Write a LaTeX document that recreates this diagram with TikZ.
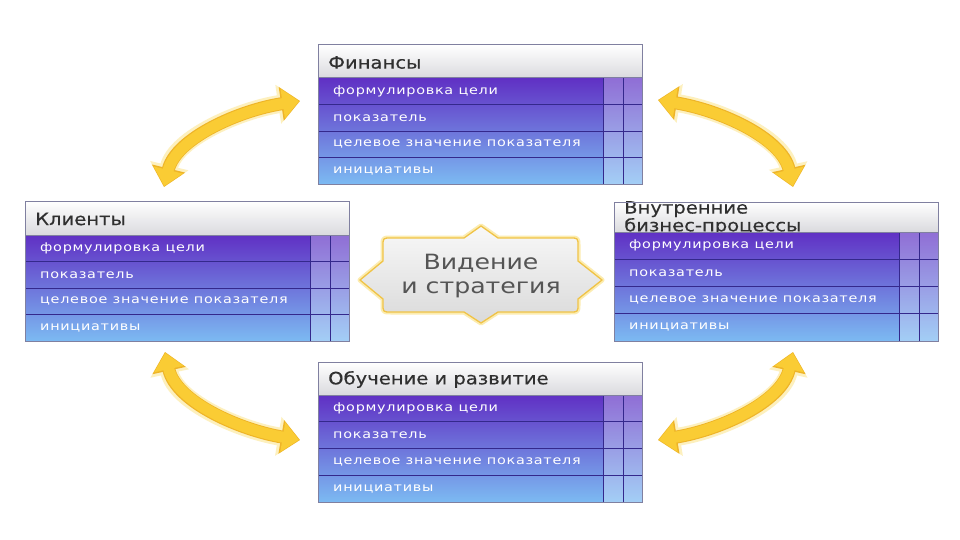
\documentclass[tikz,border=0pt]{standalone}
\usepackage{fontspec}
\setmainfont{DejaVu Sans}
\newfontfamily\hdrfont[FakeStretch=1.15,FakeBold=0.4]{DejaVu Sans}
\newfontfamily\rowfont[FakeStretch=1.2,LetterSpace=6]{DejaVu Sans}
\newfontfamily\visfont[FakeStretch=1.2]{DejaVu Sans}
\usetikzlibrary{arrows.meta}
\definecolor{rowtop}{RGB}{96,48,196}
\definecolor{rowmid}{RGB}{108,112,220}
\definecolor{rowbot}{RGB}{124,186,242}
\definecolor{hdrtop}{RGB}{255,255,255}
\definecolor{hdrbot}{RGB}{218,218,222}
\definecolor{gridcol}{RGB}{52,40,140}
\definecolor{framecol}{RGB}{128,128,160}
\definecolor{hdrtxt}{RGB}{48,48,48}
\definecolor{starline}{RGB}{240,195,70}
\definecolor{starglow}{RGB}{252,236,176}
\definecolor{startop}{RGB}{248,248,248}
\definecolor{starbot}{RGB}{218,218,218}
\definecolor{visstxt}{RGB}{85,85,85}
\definecolor{arrin}{RGB}{250,204,52}
\definecolor{arrout}{RGB}{238,180,40}
\definecolor{arrglow}{RGB}{253,240,190}
\tikzset{
  hdrtext/.style={font=\hdrfont\fontsize{17}{14}\selectfont, text=hdrtxt, inner sep=0pt, align=left},
  rowtext/.style={font=\rowfont\fontsize{12}{14}\selectfont, text=white, inner sep=0pt},
  gridln/.style={draw=gridcol, line width=0.8pt},
  frameln/.style={draw=framecol, line width=1pt},
  arrglowst/.style={draw=arrglow, line width=18pt,
     {Triangle[width=38pt,length=22pt]}-{Triangle[width=38pt,length=22pt]}},
  arroutst/.style={draw=arrout, line width=13pt,
     {Triangle[width=33pt,length=19pt]}-{Triangle[width=33pt,length=19pt]}},
  arrinst/.style={draw=arrin, line width=11pt, shorten <=1pt, shorten >=1pt,
     {Triangle[width=29pt,length=16.5pt]}-{Triangle[width=29pt,length=16.5pt]}},
  vistext/.style={font=\visfont\fontsize{21}{24}\selectfont, text=visstxt, align=center, inner sep=0pt}
}
% name, x, y, header height, row height, header text
\newcommand{\kbox}[6]{%
  \begin{scope}[shift={(#2,#3)}]
    \path[top color=hdrtop, bottom color=hdrbot] (0,0) rectangle (324,#4);
    \node[hdrtext, anchor=west] (#1) at (10,#4/2+1) {#6};
    \path[top color=rowtop, middle color=rowmid, bottom color=rowbot] (0,#4) rectangle (324,#4+4*#5);
    \fill[white, opacity=.3] (285,#4) rectangle (324,#4+4*#5);
    \foreach \ii/\txt in {1/формулировка цели,2/показатель,3/целевое значение показателя,4/инициативы}
      \node[rowtext, anchor=west] (#1-r\ii) at (15,#4+\ii*#5-#5/2) {\txt};
    \foreach \ii in {1,2,3}
      \draw[gridln] (0,#4+\ii*#5) -- (324,#4+\ii*#5);
    \draw[gridln] (285,#4) -- (285,#4+4*#5);
    \draw[gridln] (305,#4) -- (305,#4+4*#5);
    \draw[frameln] (0,0) rectangle (324,#4+4*#5);
    \draw[frameln] (0,#4) -- (324,#4);
  \end{scope}}
\begin{document}
\begin{tikzpicture}[x=1pt,y=-1pt]
\useasboundingbox (0,0) rectangle (960,540);
\fill[white] (0,0) rectangle (960,540);

% boxes
\kbox{fin}{318}{45}{33}{26.5}{Финансы}
\kbox{cli}{25}{201}{34}{26.5}{Клиенты}
\kbox{proc}{614}{202}{30}{27.25}{Внутренние\\бизнес-процессы}
\kbox{edu}{318}{362}{33}{26.75}{Обучение и развитие}

% central star
\def\starpath{(360,280) -- (383,261) -- (383,246) .. controls (383,238) .. (391,238)
  -- (464,238) -- (481,226) -- (498,238) -- (570,238) .. controls (578,238) .. (578,246)
  -- (578,261) -- (602,280) -- (578,299) -- (578,304) .. controls (578,312) .. (570,312)
  -- (498,312) -- (481,323) -- (464,312) -- (391,312) .. controls (383,312) .. (383,304)
  -- (383,299) -- cycle}
\draw[starglow, line width=5pt, line join=round] \starpath;
\path[top color=startop, bottom color=starbot] \starpath;
\draw[starline, line width=1.3pt, line join=round] \starpath;
\node[vistext] (vision) at (481,276) {Видение\\и стратегия};

% arrows
\coordinate (a1s) at (164,187); \coordinate (a1e) at (300,101);
\coordinate (a2s) at (658,100); \coordinate (a2e) at (793,187);
\coordinate (a3s) at (165,352); \coordinate (a3e) at (300,440);
\coordinate (a4s) at (793,352); \coordinate (a4e) at (658,440);
\foreach \st in {arrglowst,arroutst,arrinst}{
  \draw[\st] (a1s) .. controls (176,138) and (240,110) .. (a1e);
  \draw[\st] (a2s) .. controls (720,110) and (782,138) .. (a2e);
  \draw[\st] (a3s) .. controls (176,402) and (240,430) .. (a3e);
  \draw[\st] (a4s) .. controls (782,402) and (720,430) .. (a4e);
}
\end{tikzpicture}
\end{document}
